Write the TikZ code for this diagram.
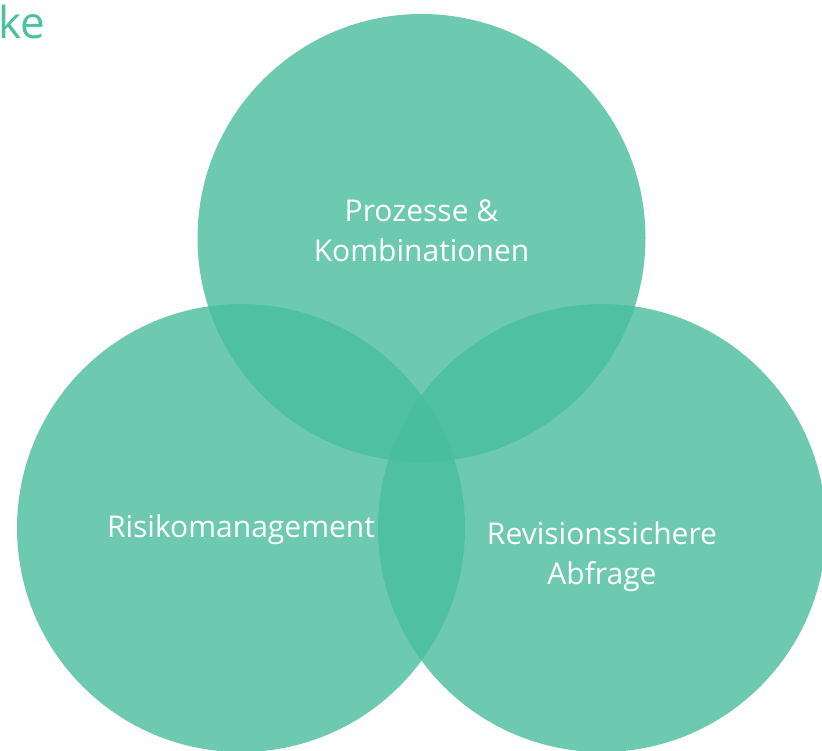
\documentclass[tikz,border=0pt]{standalone}
\usepackage{fontspec}
\setmainfont{Open Sans}
\definecolor{venn}{HTML}{48BD9C}
\definecolor{titlegreen}{HTML}{4AC29C}
\begin{document}
\begin{tikzpicture}[x=1pt,y=-1pt,
  vcircle/.style={circle, fill=venn, fill opacity=0.8, minimum size=448pt, inner sep=0pt},
  vlabel/.style={text=white, font=\fontsize{30}{40}\selectfont, align=center, text opacity=1},
]
\useasboundingbox (0,0) rectangle (822,751);
\begin{scope}
\clip (0,0) rectangle (822,751);
\node[vcircle] (top) at (421.5,238) {};
\node[vcircle] (left) at (241,528) {};
\node[vcircle] (right) at (602,528) {};
\node[anchor=base west, text=titlegreen, font=\fontsize{44}{48}\selectfont, inner sep=0pt] (title) at (-2,39) {ke};
\end{scope}
\node[vlabel] (tl) at (421.5,231) {Prozesse \&\\Kombinationen};
\node[vlabel] (ll) at (241,530) {Risikomanagement};
\node[vlabel] (rl) at (602,557) {Revisionssichere\\Abfrage};
\end{tikzpicture}
\end{document}
